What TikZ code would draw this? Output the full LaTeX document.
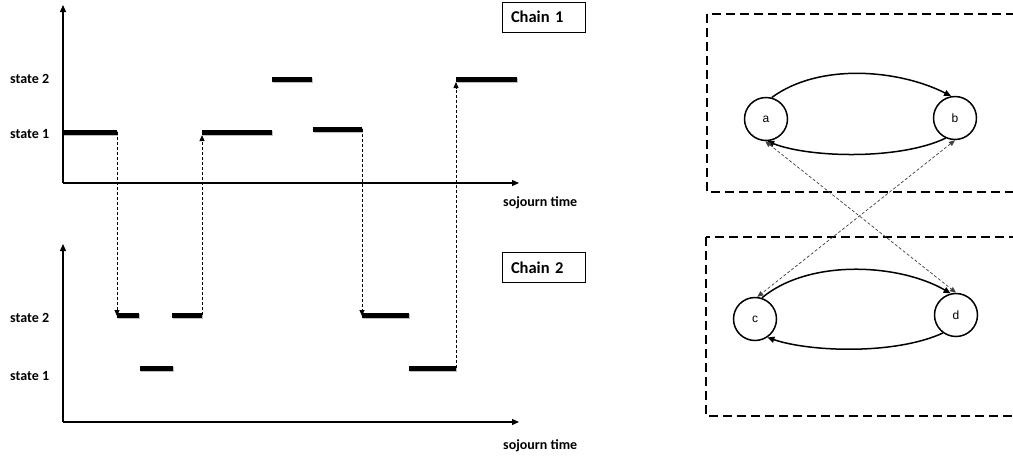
\documentclass[tikz,border=0pt]{standalone}
\usepackage{fontspec}
\setmainfont{Carlito}
\newfontfamily\arialfont{Liberation Sans}
\usetikzlibrary{arrows.meta}
\begin{document}
\begin{tikzpicture}[x=1pt,y=-1pt,
  axis/.style={line width=1.2pt,-{Triangle[length=7pt,width=6pt]}},
  bar/.style={line width=5pt,preaction={draw,black!25,line width=5pt,transform canvas={xshift=1.3pt,yshift=-1.3pt}}},
  jump/.style={line width=0.8pt,dash pattern=on 3pt off 2pt,-{Triangle[length=6pt,width=5pt]}},
  lbl/.style={font=\fontsize{14}{16}\selectfont\bfseries,anchor=west,inner sep=0pt},
  chainbox/.style={draw,line width=0.8pt,text width=65pt,align=left,inner xsep=9pt,inner ysep=0pt,minimum height=30pt,font=\fontsize{16.5}{19}\selectfont\bfseries},
  state/.style={circle,draw,line width=1.5pt,minimum size=43pt,inner sep=0pt,font=\arialfont\fontsize{12}{14}\selectfont},
  trans/.style={line width=1.5pt,-{Triangle[length=7pt,width=6pt]}},
  cross/.style={line width=0.7pt,dash pattern=on 3pt off 2pt,black!75,{Triangle[length=6pt,width=5pt]}-{Triangle[length=6pt,width=5pt]}},
  group/.style={line width=2pt,dash pattern=on 9pt off 5pt}
]
\clip (0,0) rectangle (1013,456);
\fill[white] (0,0) rectangle (1013,456);

% ---------- Chain 1 ----------
\coordinate (o1) at (63,183);
\coordinate (y1) at (63,5);
\coordinate (x1) at (519,183);
\draw[axis] (o1) -- (y1);
\draw[axis] (o1) -- (x1);
\node[lbl] (c1s2) at (10,79) {state 2};
\node[lbl] (c1s1) at (10,134) {state 1};
\node[lbl] (c1t) at (503,203) {sojourn time};
\node[chainbox] (ch1) at (543.5,17) {Chain 1};

\coordinate (a1) at (63,132);  \coordinate (a2) at (117,132);
\coordinate (b1) at (202,132); \coordinate (b2) at (272,132);
\coordinate (c1) at (272,79);  \coordinate (c2) at (312,79);
\coordinate (d1) at (313,129); \coordinate (d2) at (362,129);
\coordinate (e1) at (456,79);  \coordinate (e2) at (517,79);
\draw[bar] (a1) -- (a2);
\draw[bar] (b1) -- (b2);
\draw[bar] (c1) -- (c2);
\draw[bar] (d1) -- (d2);
\draw[bar] (e1) -- (e2);

% ---------- Chain 2 ----------
\coordinate (o2) at (63,422);
\coordinate (y2) at (63,244);
\coordinate (x2) at (519,422);
\draw[axis] (o2) -- (y2);
\draw[axis] (o2) -- (x2);
\node[lbl] (c2s2) at (10,318) {state 2};
\node[lbl] (c2s1) at (10,376) {state 1};
\node[lbl] (c2t) at (503,446) {sojourn time};
\node[chainbox] (ch2) at (543.5,267.5) {Chain 2};

\coordinate (f1) at (117,315); \coordinate (f2) at (139,315);
\coordinate (g1) at (140,368); \coordinate (g2) at (173,368);
\coordinate (h1) at (172,315); \coordinate (h2) at (202,315);
\coordinate (i1) at (362,315); \coordinate (i2) at (409,315);
\coordinate (j1) at (409,368); \coordinate (j2) at (456,368);
\draw[bar] (f1) -- (f2);
\draw[bar] (g1) -- (g2);
\draw[bar] (h1) -- (h2);
\draw[bar] (i1) -- (i2);
\draw[bar] (j1) -- (j2);

% ---------- jumps between chains ----------
\coordinate (ja) at (117,316);
\coordinate (jb) at (202,135);
\coordinate (jc) at (362,316);
\coordinate (jd) at (456,82);
\draw[jump] (a2) -- (ja);
\draw[jump] (h2) -- (jb);
\draw[jump] (d2) -- (jc);
\draw[jump] (j2) -- (jd);

% ---------- right: state graphs ----------
\draw[group] (707,14) rectangle (1040,192);
\draw[group] (706,237) rectangle (1040,416);

\node[state] (a) at (766,119) {a};
\node[state] (b) at (955,118) {b};
\node[state] (c) at (755,319) {c};
\node[state] (d) at (956,315) {d};

\draw[trans] (a.75) .. controls (820,62) and (900,70) .. (b.100);
\draw[trans] (b.245) .. controls (900,160) and (810,158) .. (a.273);
\draw[trans] (c.72) .. controls (810,258) and (900,264) .. (d.104);
\draw[trans] (d.234) .. controls (895,355) and (810,352) .. (c.304);

\draw[cross] (a.-92) -- (d.90);
\draw[cross] (b.-90) -- (c.84);
\end{tikzpicture}
\end{document}
